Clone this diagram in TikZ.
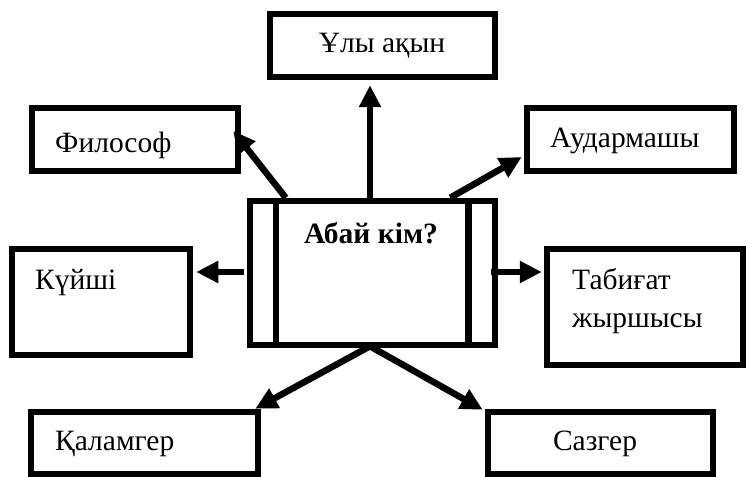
\documentclass[tikz,border=0pt]{standalone}
\usepackage{fontspec}
\setmainfont{Liberation Serif}
\usetikzlibrary{arrows.meta,calc}
\tikzset{
  box/.style={draw,line width=6.5pt,rectangle,inner sep=0pt},
  lbl/.style={inner sep=0pt,font=\fontsize{29.5}{38}\selectfont},
  arr/.style={line width=6.5pt,-{Triangle[length=22pt,width=21pt]}},
  bar/.style={line width=6.5pt}
}
\begin{document}
\begin{tikzpicture}[x=1pt,y=-1pt]
\useasboundingbox (0,0) rectangle (746,476);
% boxes
\node[box,minimum width=245pt,minimum height=144pt] (cen) at (372.5,273) {};
\node[box,minimum width=225pt,minimum height=63pt] (uly) at (382.5,45.5) {};
\node[box,minimum width=206pt,minimum height=63pt] (phil) at (135,139.5) {};
\node[box,minimum width=207pt,minimum height=63pt] (aud) at (630.5,139.5) {};
\node[box,minimum width=178pt,minimum height=106pt] (kuy) at (101,302) {};
\node[box,minimum width=196pt,minimum height=116pt] (tab) at (645,307) {};
\node[box,minimum width=227pt,minimum height=62pt] (kal) at (144.5,443) {};
\node[box,minimum width=225pt,minimum height=62pt] (saz) at (600.5,443) {};
% inner bars of central box
\draw[bar] ($(cen.north west)+(29,0)$) -- ($(cen.south west)+(29,0)$);
\draw[bar] ($(cen.north east)+(-30,0)$) -- ($(cen.south east)+(-30,0)$);
% texts
\node[lbl,anchor=base] (tcen) at (371,243) {\bfseries Абай кім?};
\node[lbl,anchor=base] (tuly) at (382,53) {Ұлы ақын};
\node[lbl,anchor=base west] (tphil) at (55,152) {Философ};
\node[lbl,anchor=base west] (taud) at (550,147) {Аудармашы};
\node[lbl,anchor=base west] (tkuy) at (35,289) {Күйші};
\node[lbl,anchor=base west] (ttab1) at (572,289) {Табиғат};
\node[lbl,anchor=base west] (ttab2) at (572,327) {жыршысы};
\node[lbl,anchor=base west] (tkal) at (55,450) {Қаламгер};
\node[lbl,anchor=base] (tsaz) at (595,450) {Сазгер};
% arrows
\draw[arr] ($(cen.north)+(-2.5,0)$) -- ($(uly.south)+(-12.5,5)$);
\draw[arr] ($(cen.north west)+(39,0)$) -- ($(phil.east)+(-8,-8.5)$);
\draw[arr] ($(cen.north east)+(-48,0)$) -- ($(aud.west)+(-2,17.5)$);
\draw[arr] ($(cen.west)+(-3,-1)$) -- ($(kuy.east)+(3,-30)$);
\draw[arr] ($(cen.east)+(-7,-1)$) -- ($(tab.west)+(-2,-35)$);
\draw[arr] ($(cen.south)+(-2.5,-2)$) -- ($(kal.north east)+(-6,0)$);
\draw[arr] ($(cen.south)+(-2.5,-2)$) -- ($(saz.north west)+(-2,1)$);
\end{tikzpicture}
\end{document}
